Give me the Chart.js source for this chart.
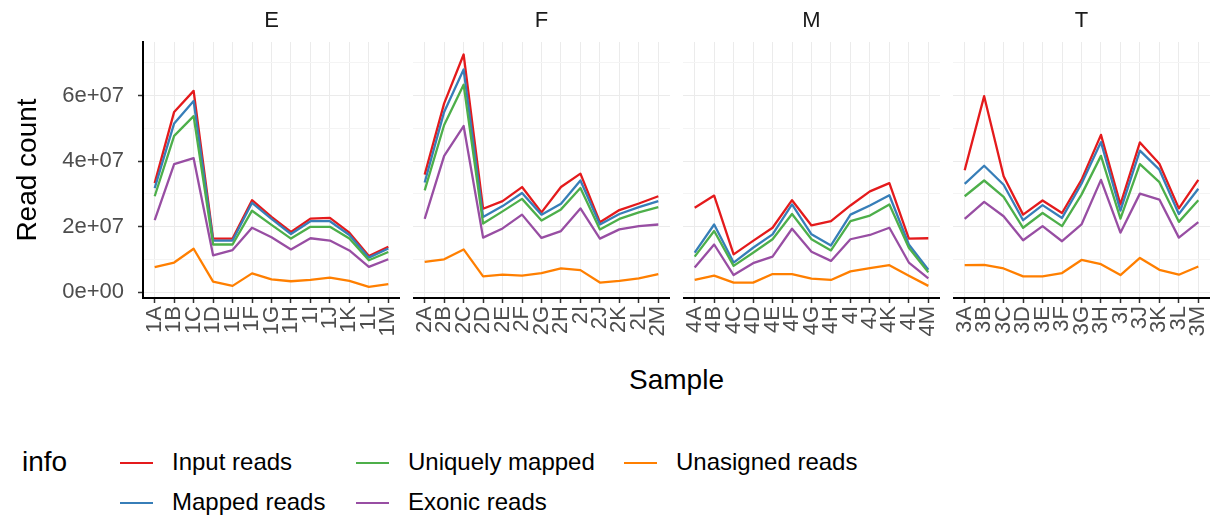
<!DOCTYPE html>
<html>
<head>
<meta charset="utf-8">
<title>Read counts per sample</title>
<script src="https://cdn.jsdelivr.net/npm/chart.js@4.4.1/dist/chart.umd.min.js"></script>
<style>
  body { margin: 0; background: #fff; font-family: "Liberation Sans", Arial, sans-serif; }
  #wrap { position: relative; width: 1212px; height: 519px; overflow: hidden; }
  canvas { position: absolute; top: 0; }
  .strip { position: absolute; top: 7px; width: 257px; text-align: center; font-size: 22px; color: #1a1a1a; line-height: 26px; }
  #xtitle { position: absolute; left: 143px; width: 1067px; top: 363px; text-align: center; font-size: 28px; line-height: 34px; color: #000; }
  #ltitle { position: absolute; left: 22px; top: 445px; font-size: 28px; line-height: 34px; color: #000; }
  .key { position: absolute; font-size: 24px; line-height: 28px; color: #000; white-space: nowrap; }
  .swatch { display: inline-block; width: 33px; height: 2px; margin-right: 19px; vertical-align: middle; position: relative; top: -1px; }
</style>
</head>
<body>
<div id="wrap">
  <canvas id="panel0" width="400" height="360" style="left:0px"></canvas>
  <canvas id="panel1" width="257" height="360" style="left:413px"></canvas>
  <canvas id="panel2" width="257" height="360" style="left:683px"></canvas>
  <canvas id="panel3" width="257" height="360" style="left:953px"></canvas>
  <div id="xtitle">Sample</div>
  <div id="ltitle">info</div>
</div>
<script>
const panelNames = ['E', 'F', 'M', 'T'];

const samplesE = ['1A', '1B', '1C', '1D', '1E', '1F', '1G', '1H', '1I', '1J', '1K', '1L', '1M'];
const samplesF = ['2A', '2B', '2C', '2D', '2E', '2F', '2G', '2H', '2I', '2J', '2K', '2L', '2M'];
const samplesM = ['4A', '4B', '4C', '4D', '4E', '4F', '4G', '4H', '4I', '4J', '4K', '4L', '4M'];
const samplesT = ['3A', '3B', '3C', '3D', '3E', '3F', '3G', '3H', '3I', '3J', '3K', '3L', '3M'];

const seriesNames = ['Input reads', 'Mapped reads', 'Uniquely mapped', 'Exonic reads', 'Unasigned reads'];
const seriesColors = ['#E41A1C', '#377EB8', '#4DAF4A', '#984EA3', '#FF7F00'];

// read counts, in millions
const inputE      = [33.3, 55.0, 61.4, 16.4, 16.4, 28.1, 23.0, 18.4, 22.5, 22.7, 18.2, 11.1, 13.9];
const mappedE     = [31.8, 51.5, 58.3, 15.8, 15.8, 27.3, 22.4, 17.8, 21.7, 21.7, 17.5, 10.6, 13.4];
const uniqueE     = [29.3, 47.7, 53.7, 14.6, 14.6, 24.9, 20.6, 16.4, 20.0, 20.0, 16.4, 9.8, 12.3];
const exonicE     = [22.0, 39.1, 40.9, 11.3, 12.9, 19.7, 16.8, 13.1, 16.5, 15.8, 12.8, 7.8, 10.1];
const unassignedE = [7.7, 9.1, 13.3, 3.3, 2.0, 5.8, 4.0, 3.4, 3.8, 4.5, 3.5, 1.7, 2.5];

const inputF      = [35.9, 57.6, 72.5, 25.5, 27.8, 32.1, 24.4, 32.1, 36.2, 21.4, 25.1, 27.1, 29.3];
const mappedF     = [33.5, 55.0, 67.9, 23.0, 26.3, 30.3, 23.7, 27.0, 34.1, 20.7, 23.9, 26.0, 27.8];
const uniqueF     = [31.1, 51.0, 63.3, 21.0, 24.7, 28.5, 21.9, 25.3, 31.8, 19.2, 22.4, 24.4, 26.0];
const exonicF     = [22.4, 41.6, 50.7, 16.7, 19.5, 23.7, 16.6, 18.7, 25.6, 16.4, 19.2, 20.2, 20.7];
const unassignedF = [9.3, 10.1, 13.1, 4.9, 5.4, 5.1, 5.9, 7.3, 6.8, 3.0, 3.5, 4.3, 5.6];

const inputM      = [25.8, 29.5, 11.6, 15.7, 19.7, 28.1, 20.4, 21.7, 26.5, 30.8, 33.3, 16.4, 16.5];
const mappedM     = [12.1, 20.7, 9.1, 13.6, 17.7, 26.8, 17.7, 14.3, 23.7, 26.5, 29.6, 14.6, 6.9];
const uniqueM     = [10.9, 18.7, 8.1, 12.1, 16.2, 23.9, 16.2, 12.8, 21.7, 23.4, 26.8, 13.6, 6.1];
const exonicM     = [7.6, 14.6, 5.3, 8.9, 10.9, 19.4, 12.4, 9.6, 16.2, 17.5, 19.7, 9.1, 4.3];
const unassignedM = [3.8, 5.1, 3.0, 3.0, 5.6, 5.6, 4.2, 3.8, 6.4, 7.4, 8.3, 5.1, 2.0];

const inputT      = [37.2, 59.8, 35.4, 23.7, 28.0, 24.2, 34.3, 48.0, 26.8, 45.7, 39.2, 25.6, 34.3];
const mappedT     = [33.1, 38.6, 32.8, 22.0, 26.6, 22.7, 33.1, 45.8, 24.9, 43.2, 37.4, 23.9, 31.6];
const uniqueT     = [29.3, 34.1, 29.1, 19.7, 24.2, 20.2, 29.8, 41.6, 22.5, 39.1, 33.6, 21.5, 28.1];
const exonicT     = [22.4, 27.6, 23.2, 15.9, 20.2, 15.6, 20.7, 34.3, 18.2, 30.1, 28.3, 16.7, 21.4];
const unassignedT = [8.3, 8.4, 7.3, 4.9, 4.9, 5.9, 9.9, 8.6, 5.3, 10.5, 6.9, 5.4, 7.9];

const yTickValues = [0, 2e7, 4e7, 6e7];
const yTickLabels = ['0e+00', '2e+07', '4e+07', '6e+07'];
const yMinorValues = [1e7, 3e7, 5e7, 7e7];

const panels = [
    { samples: samplesE, series: [inputE, mappedE, uniqueE, exonicE, unassignedE] },
    { samples: samplesF, series: [inputF, mappedF, uniqueF, exonicF, unassignedF] },
    { samples: samplesM, series: [inputM, mappedM, uniqueM, exonicM, unassignedM] },
    { samples: samplesT, series: [inputT, mappedT, uniqueT, exonicT, unassignedT] }
];

const plotLeft = [143, 413, 683, 953];
const fontFamily = '"Liberation Sans", Arial, sans-serif';
const wrap = document.getElementById('wrap');

function makePanel(index) {
    const panel = panels[index];
    const first = index === 0;
    const ctx = document.getElementById('panel' + index).getContext('2d');

    const datasets = panel.series.map((values, i) => ({
        label: seriesNames[i],
        data: values.map((v, j) => ({ x: j, y: v * 1e6 })),
        borderColor: seriesColors[i],
        borderWidth: 2.3,
        borderJoinStyle: 'round',
        pointRadius: 0,
        tension: 0,
        order: -i
    }));

    new Chart(ctx, {
        type: 'line',
        data: { datasets: datasets },
        options: {
            responsive: false,
            animation: false,
            layout: { padding: { top: 42, left: 0, right: 0, bottom: 0 } },
            plugins: { legend: { display: false }, tooltip: { enabled: false } },
            scales: {
                x: {
                    type: 'linear',
                    min: -0.6,
                    max: panel.samples.length - 0.4,
                    afterBuildTicks: (scale) => {
                        scale.ticks = panel.samples.map((s, i) => ({ value: i }));
                    },
                    afterFit: (scale) => {
                        scale.height = 62;
                        scale.paddingLeft = 0;
                        scale.paddingRight = 0;
                    },
                    ticks: {
                        autoSkip: false,
                        minRotation: 90,
                        maxRotation: 90,
                        padding: 3,
                        color: '#4d4d4d',
                        font: { family: fontFamily, size: 22 },
                        callback: (value) => panel.samples[value]
                    },
                    grid: { color: '#ebebeb', lineWidth: 1, tickColor: '#333333', tickLength: 5, tickWidth: 1.5 },
                    border: { display: true, color: '#000000', width: 2 }
                },
                y: {
                    min: -1.7e6,
                    max: 7.63e7,
                    afterBuildTicks: (scale) => {
                        scale.ticks = yTickValues.concat(yMinorValues).sort((a, b) => a - b).map(v => ({ value: v }));
                    },
                    afterFit: (scale) => {
                        scale.width = first ? 143 : 0;
                        scale.paddingTop = 0;
                        scale.paddingBottom = 0;
                    },
                    ticks: {
                        display: first,
                        padding: 14,
                        color: '#4d4d4d',
                        font: { family: fontFamily, size: 22 },
                        callback: (value) => {
                            const k = yTickValues.indexOf(value);
                            return k >= 0 ? yTickLabels[k] : '';
                        }
                    },
                    grid: {
                        color: (c) => yTickValues.includes(c.tick.value) ? '#ebebeb' : '#f4f4f4',
                        lineWidth: 1,
                        drawTicks: first,
                        tickLength: 5,
                        tickWidth: 1.5,
                        tickColor: (c) => yTickValues.includes(c.tick.value) ? '#333333' : 'rgba(0,0,0,0)'
                    },
                    border: { display: first, color: '#000000', width: 2 },
                    title: {
                        display: first,
                        text: 'Read count',
                        color: '#000000',
                        font: { family: fontFamily, size: 28 },
                        padding: { top: 11, bottom: 0 }
                    }
                }
            }
        }
    });

    // facet strip label above the panel
    const strip = document.createElement('div');
    strip.className = 'strip';
    strip.style.left = plotLeft[index] + 'px';
    strip.textContent = panelNames[index];
    wrap.appendChild(strip);
}

panels.forEach((p, i) => makePanel(i));

// legend, filled column by column like ggplot does
const legendCols = [120, 356, 624];
seriesNames.forEach((name, i) => {
    const item = document.createElement('div');
    item.className = 'key';
    item.style.left = legendCols[Math.floor(i / 2)] + 'px';
    item.style.top = (i % 2 ? 488 : 448) + 'px';
    item.innerHTML = `<span class="swatch" style="background:${seriesColors[i]}"></span>${name}`;
    wrap.appendChild(item);
});
</script>
</body>
</html>
